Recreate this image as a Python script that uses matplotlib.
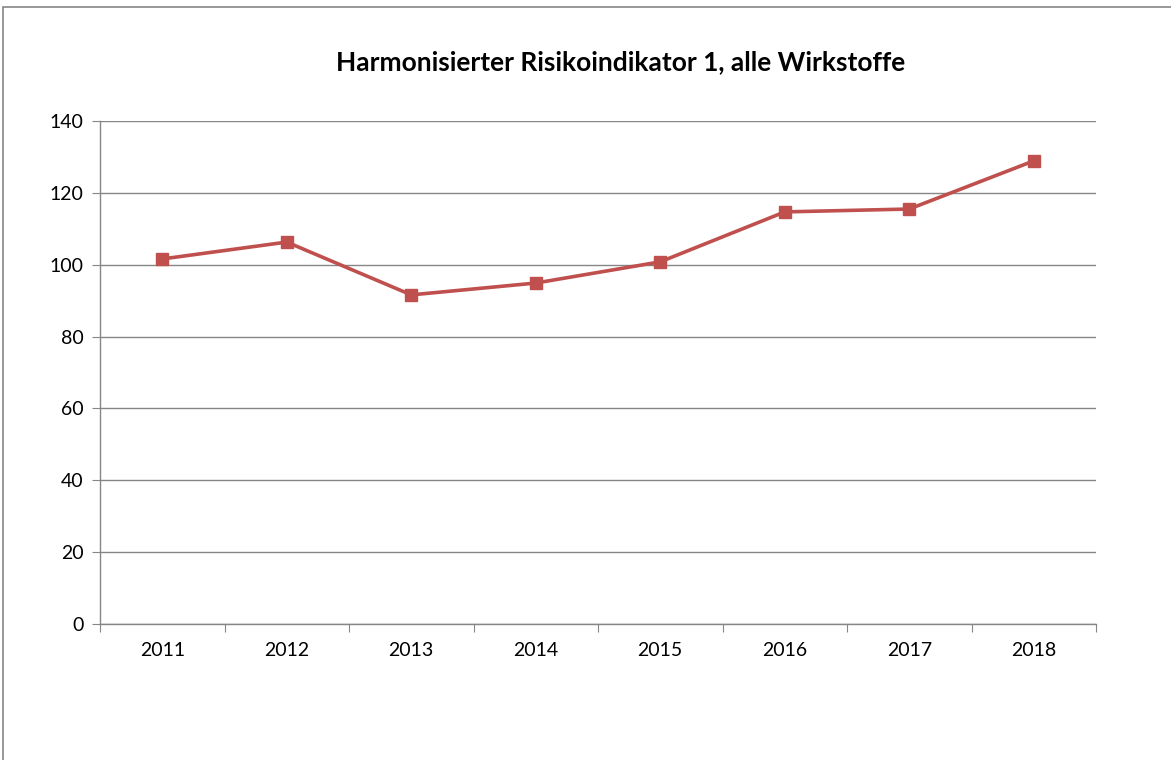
import matplotlib.pyplot as plt
from matplotlib.patches import Rectangle
from matplotlib.ticker import FixedLocator, NullFormatter

years = ['2011', '2012', '2013', '2014', '2015', '2016', '2017', '2018']
values = [101.6, 106.3, 91.6, 94.9, 100.8, 114.7, 115.5, 128.9]
y_ticks = [0, 20, 40, 60, 80, 100, 120, 140]

plt.rcParams['font.family'] = ['Lato', 'DejaVu Sans']

fig = plt.figure(figsize=(11.71, 7.60), dpi=100)
# outer chart frame (only left/top edges visible in the crop)
fig.patches.append(Rectangle((3 / 1171, -0.1), 1.2, 1 - 7 / 760 + 0.1,
                             transform=fig.transFigure, fill=False,
                             edgecolor='#868686', linewidth=1.2))

ax = fig.add_axes([100 / 1171, 1 - 624 / 760, 996 / 1171, 503 / 760])
x = list(range(len(years)))
ax.plot(x, values, color='#C0504D', linewidth=2.6, marker='s',
        markersize=8, markerfacecolor='#C0504D', markeredgecolor='#C0504D')

ax.set_xlim(-0.5, len(years) - 0.5)
ax.set_ylim(0, 140)
ax.set_yticks(y_ticks)
ax.set_yticklabels([str(t) for t in y_ticks], fontsize=14)
ax.yaxis.grid(True, color='#868686', linewidth=1)
ax.set_axisbelow(True)

# category axis: ticks between categories, labels at centers
ax.xaxis.set_major_locator(FixedLocator([i - 0.5 for i in range(len(years) + 1)]))
ax.xaxis.set_major_formatter(NullFormatter())
ax.xaxis.set_minor_locator(FixedLocator(x))
ax.set_xticklabels(years, minor=True, fontsize=14)
ax.tick_params(axis='x', which='major', length=6, color='#868686', direction='out')
ax.tick_params(axis='x', which='minor', length=0, pad=13)
ax.tick_params(axis='y', length=6, color='#868686', pad=6)

for side in ['top', 'right']:
    ax.spines[side].set_visible(False)
for side in ['left', 'bottom']:
    ax.spines[side].set_color('#868686')
    ax.spines[side].set_linewidth(1)

fig.text(621 / 1171, 1 - 62 / 760, 'Harmonisierter Risikoindikator 1, alle Wirkstoffe',
         ha='center', va='center', fontsize=19, fontweight='bold')

fig.savefig('out.png', dpi=100)
